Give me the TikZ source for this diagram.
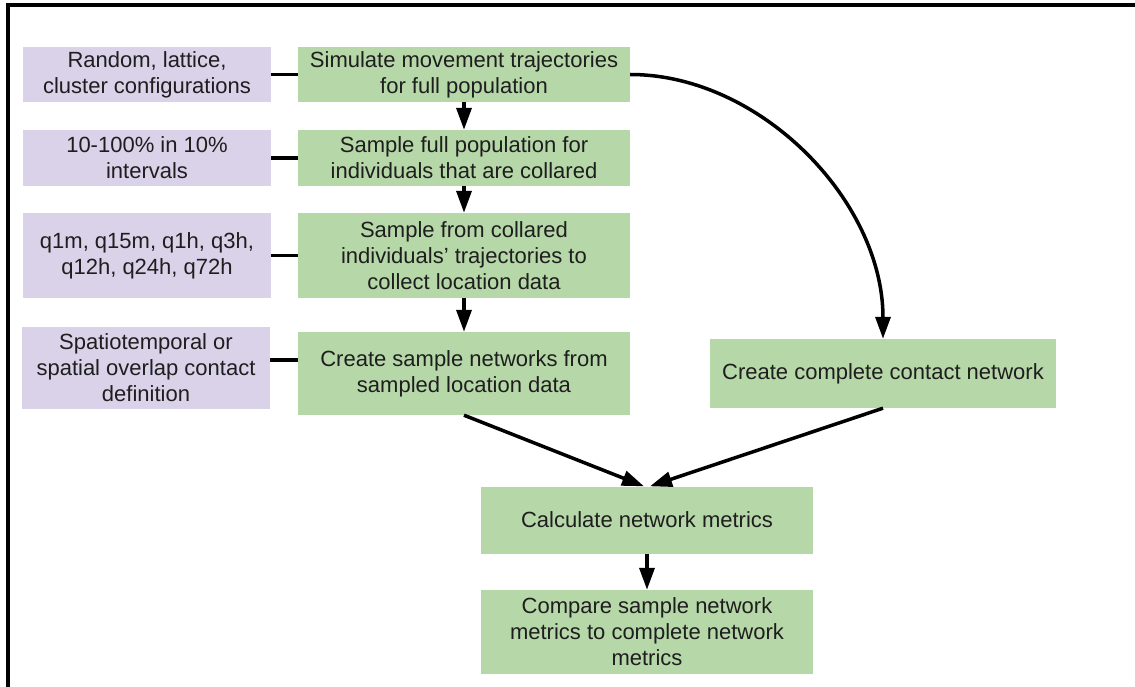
\documentclass[tikz,border=0pt]{standalone}
\usepackage{fontspec}
\setmainfont{Liberation Sans}
\usetikzlibrary{arrows.meta}
\definecolor{boxgreen}{HTML}{B6D7A8}
\definecolor{boxpurple}{HTML}{D9D2E9}
\definecolor{ink}{HTML}{1E1E1E}
\tikzset{
  base/.style={inner sep=0pt, align=center, text=ink,
    font=\fontsize{22}{26}\selectfont},
  stepbox/.style={base, fill=boxgreen, minimum width=332pt},
  parambox/.style={base, fill=boxpurple, minimum width=248pt},
  flow/.style={line width=3.5pt, -{Triangle[length=22pt,width=15pt]}},
  link/.style={line width=3.5pt},
}
\begin{document}
\begin{tikzpicture}[x=1pt,y=-1pt]
  % page area and the frame along the top and left
  \fill[white] (0,0) rectangle (1135,687);
  \useasboundingbox (0,0) rectangle (1135,687);
  \draw[line width=3.5pt] (8,687) -- (8,5) -- (1135,5);

  % parameter boxes
  \node[parambox, minimum height=55pt] (p1) at (147,74.5)
    {Random, lattice,\\cluster configurations};
  \node[parambox, minimum height=56pt] (p2) at (147,158)
    {10-100\% in 10\%\\intervals};
  \node[parambox, minimum height=85pt] (p3) at (147,255.5)
    {q1m, q15m, q1h, q3h,\\q12h, q24h, q72h};
  \node[parambox, minimum height=82pt] (p4) at (146,368)
    {Spatiotemporal or\\spatial overlap contact\\definition};

  % main steps
  \node[stepbox, minimum height=55pt] (g1) at (464,74.5)
    {Simulate movement trajectories\\for full population};
  \node[stepbox, minimum height=56pt] (g2) at (464,158)
    {Sample full population for\\individuals that are collared};
  \node[stepbox, minimum height=85pt] (g3) at (464,255.5)
    {Sample from collared\\individuals’ trajectories to\\collect location data};
  \node[stepbox, minimum height=83pt] (g4) at (464,373.5)
    {Create sample networks from\\sampled location data};
  \node[stepbox, minimum width=346pt, minimum height=69pt] (gc) at (883,373.5)
    {Create complete contact network};
  \node[stepbox, minimum height=67pt] (calc) at (647,520)
    {Calculate network metrics};
  \node[stepbox, minimum height=84pt] (comp) at (647,632)
    {Compare sample network\\metrics to complete network\\metrics};

  % parameter links
  \draw[link] (p1.east) -- (g1.west);
  \draw[link] (p2.east) -- (g2.west);
  \draw[link] (p3.east) -- (g3.west);
  \draw[link] ([yshift=8pt]p4.east) -- ([yshift=13.5pt]g4.west);

  % flow arrows
  \draw[flow] (g1.south) -- (g2.north);
  \draw[flow] (g2.south) -- (g3.north);
  \draw[flow] (g3.south) -- (g4.north);
  \draw[flow] (g1.east) .. controls +(130,0) and +(0,-138) .. (gc.north);
  \draw[flow] (g4.south) -- ([xshift=-3pt]calc.north);
  \draw[flow] (gc.south) -- ([xshift=3pt]calc.north);
  \draw[flow] (calc.south) -- (comp.north);
\end{tikzpicture}
\end{document}
